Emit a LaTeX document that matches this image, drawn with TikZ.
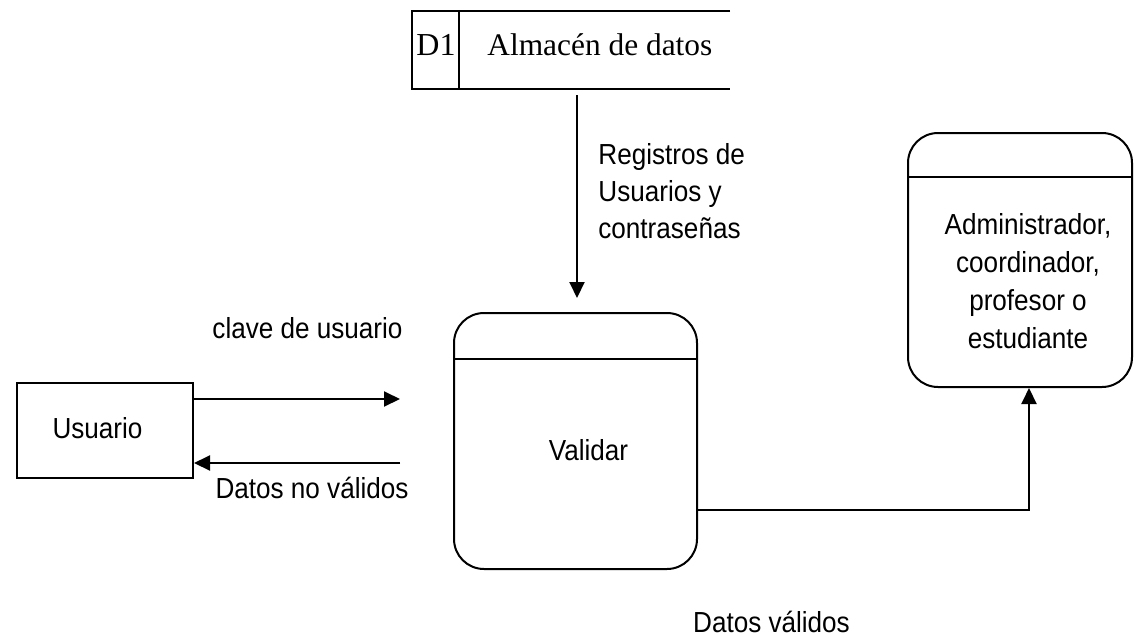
\documentclass[tikz,border=0pt]{standalone}
\usepackage{fontspec}
\setmainfont{Liberation Sans}[FakeStretch=0.9]
\newfontfamily\storefont{Liberation Serif}
\usetikzlibrary{arrows.meta}
\tikzset{
  px/.style={x=0.5pt,y=-0.5pt},
  lw/.style={line width=1pt},
  flow/.style={lw,-{Triangle[length=8pt,width=7.5pt]}},
  procbox/.style={draw,lw,rounded corners=15pt,inner sep=0pt},
  entbox/.style={draw,lw,inner sep=0pt},
  lbl/.style={inner sep=0pt,font=\fontsize{14.5}{18}\selectfont},
}
\begin{document}
\begin{tikzpicture}[px]
\useasboundingbox (0,0) rectangle (1134,637);
% data store
\coordinate (stTL) at (412,11);
\coordinate (stBL) at (412,89);
\coordinate (stTR) at (730,11);
\coordinate (stBR) at (730,89);
\coordinate (stDT) at (459,11);
\coordinate (stDB) at (459,89);
\draw[lw] (stTR) -- (stTL) -- (stBL) -- (stBR);
\draw[lw] (stDT) -- (stDB);
\node[inner sep=0pt,anchor=base west,font=\storefont\fontsize{16}{18}\selectfont] (d1) at (416,55) {D1};
\node[inner sep=0pt,anchor=base west,font=\storefont\fontsize{15.7}{18}\selectfont] (store) at (487,55) {Almacén de datos};
% process Validar
\node[procbox,minimum width=121.5pt,minimum height=128pt] (valid) at (575.5,441) {};
\draw[lw] (valid.west |- 0,359) -- (valid.east |- 0,359);
\node[lbl,anchor=base] (validt) at (588.5,460) {Validar};
% entity right
\node[procbox,minimum width=112pt,minimum height=127pt] (admin) at (1020,260) {};
\draw[lw] (admin.west |- 0,177) -- (admin.east |- 0,177);
\node[lbl,align=center,font=\fontsize{14.5}{19}\selectfont] (admint) at (1028,281) {Administrador,\\coordinador,\\profesor o\\estudiante};
% Usuario
\node[entbox,minimum width=88pt,minimum height=47.5pt] (usuario) at (105,430.5) {};
\node[lbl,anchor=base] (usuariot) at (97.5,438) {Usuario};
% flows
\coordinate (s1) at (577,95);
\coordinate (s2) at (577,298);
\draw[flow] (s1) -- (s2);
\node[lbl,align=left,anchor=base west,font=\fontsize{14.5}{18.4}\selectfont] (reg) at (598,238) {Registros de\\Usuarios y\\contraseñas};
\coordinate (k1) at (400,399);
\coordinate (k2) at (400,463);
\draw[flow] (usuario.east |- k1) -- (k1);
\draw[flow] (k2) -- (usuario.east |- k2);
\node[lbl,anchor=base] (clave) at (307.5,338) {clave de usuario};
\node[lbl,anchor=base] (nov) at (312,498) {Datos no válidos};
\coordinate (dv) at (1029,510);
\draw[flow] (valid.east |- dv) -- (dv) -- (dv |- admin.south);
\node[lbl,anchor=base] (val) at (771.5,632) {Datos válidos};
\end{tikzpicture}
\end{document}
